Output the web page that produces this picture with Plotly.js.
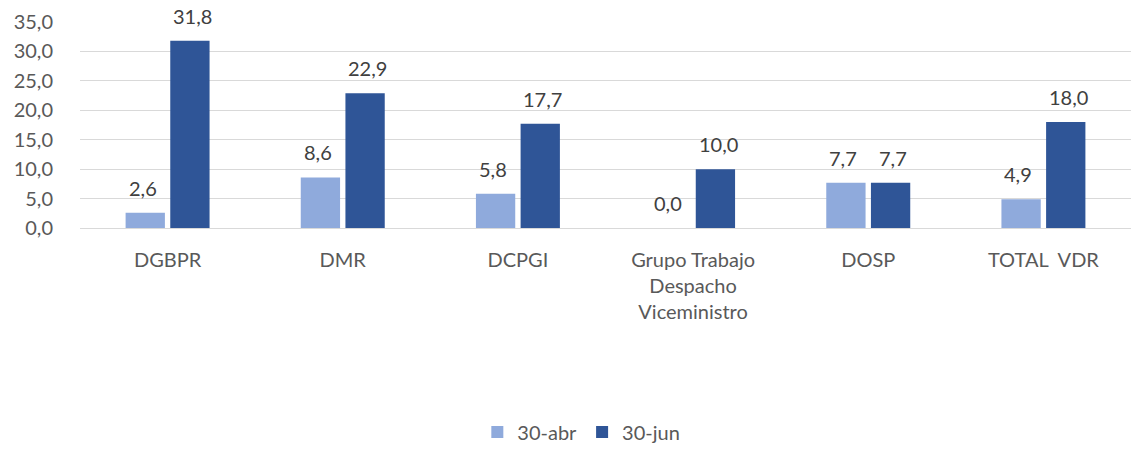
<!DOCTYPE html>
<html><head><meta charset="utf-8">
<script src="https://cdn.plot.ly/plotly-3.0.1.min.js"></script>
<style>html,body{margin:0;padding:0;background:#fff}#chart{width:1137px;height:449px}</style>
</head><body><div id="chart"></div>
<script>
const categories = ["DGBPR", "DMR", "DCPGI", "Grupo Trabajo<br>Despacho<br>Viceministro", "DOSP", "TOTAL  VDR"];
const seriesNames = ["30-abr", "30-jun"];
const abrValues = [2.6, 8.6, 5.8, 0.0, 7.7, 4.9];
const junValues = [31.8, 22.9, 17.7, 10.0, 7.7, 18.0];
const yTicks = [0, 5, 10, 15, 20, 25, 30, 35];

const fontFam = "Lato, 'Open Sans', sans-serif";
const mk = (name, vals, color) => ({
  type: 'bar', name: name, x: categories, y: vals,
  marker: {color: color},
  hoverinfo: 'skip'
});
const data = [mk(seriesNames[0], abrValues, '#8FAADC'), mk(seriesNames[1], junValues, '#2F5597')];

const fmt = v => v.toFixed(1).replace('.', ',');
const annotations = [];
[[abrValues, -25], [junValues, 25]].forEach(([vals, dx]) => {
  vals.forEach((v, i) => annotations.push({
    x: categories[i], y: v, xref: 'x', yref: 'y', text: fmt(v), showarrow: false,
    xanchor: 'center', yanchor: 'bottom', xshift: dx, yshift: 11,
    font: {family: fontFam, size: 20, color: '#404040'}
  }));
});

const layout = {
  width: 1137, height: 449,
  margin: {l: 80, r: 6, t: 22, b: 221, autoexpand: false},
  separators: ',.',
  font: {family: fontFam, size: 20, color: '#595959'},
  barmode: 'group', bargap: 0.49, bargroupgap: 0.12,
  paper_bgcolor: '#fff', plot_bgcolor: '#fff',
  showlegend: true,
  annotations: annotations,
  legend: {orientation: 'h', x: 0.477, xanchor: 'center', xref: 'paper', y: -0.99, yanchor: 'middle',
           font: {family: fontFam, size: 20, color: '#595959'}, traceorder: 'normal'},
  xaxis: {type: 'category', showgrid: false, zeroline: false, showline: false, ticks: '',
          ticklabelstandoff: 18,
          tickfont: {family: fontFam, size: 20, color: '#595959'}, automargin: false},
  yaxis: {range: [0, 35], tickvals: yTicks, tickformat: '.1f', showgrid: true, gridcolor: '#D9D9D9', gridwidth: 1,
          zeroline: true, zerolinecolor: '#D9D9D9', zerolinewidth: 1, showline: false, ticks: '',
          ticklabelstandoff: 26, tickfont: {family: fontFam, size: 20, color: '#595959'}, automargin: false}
};
Plotly.newPlot('chart', data, layout, {displayModeBar: false, staticPlot: true});
</script></body></html>
